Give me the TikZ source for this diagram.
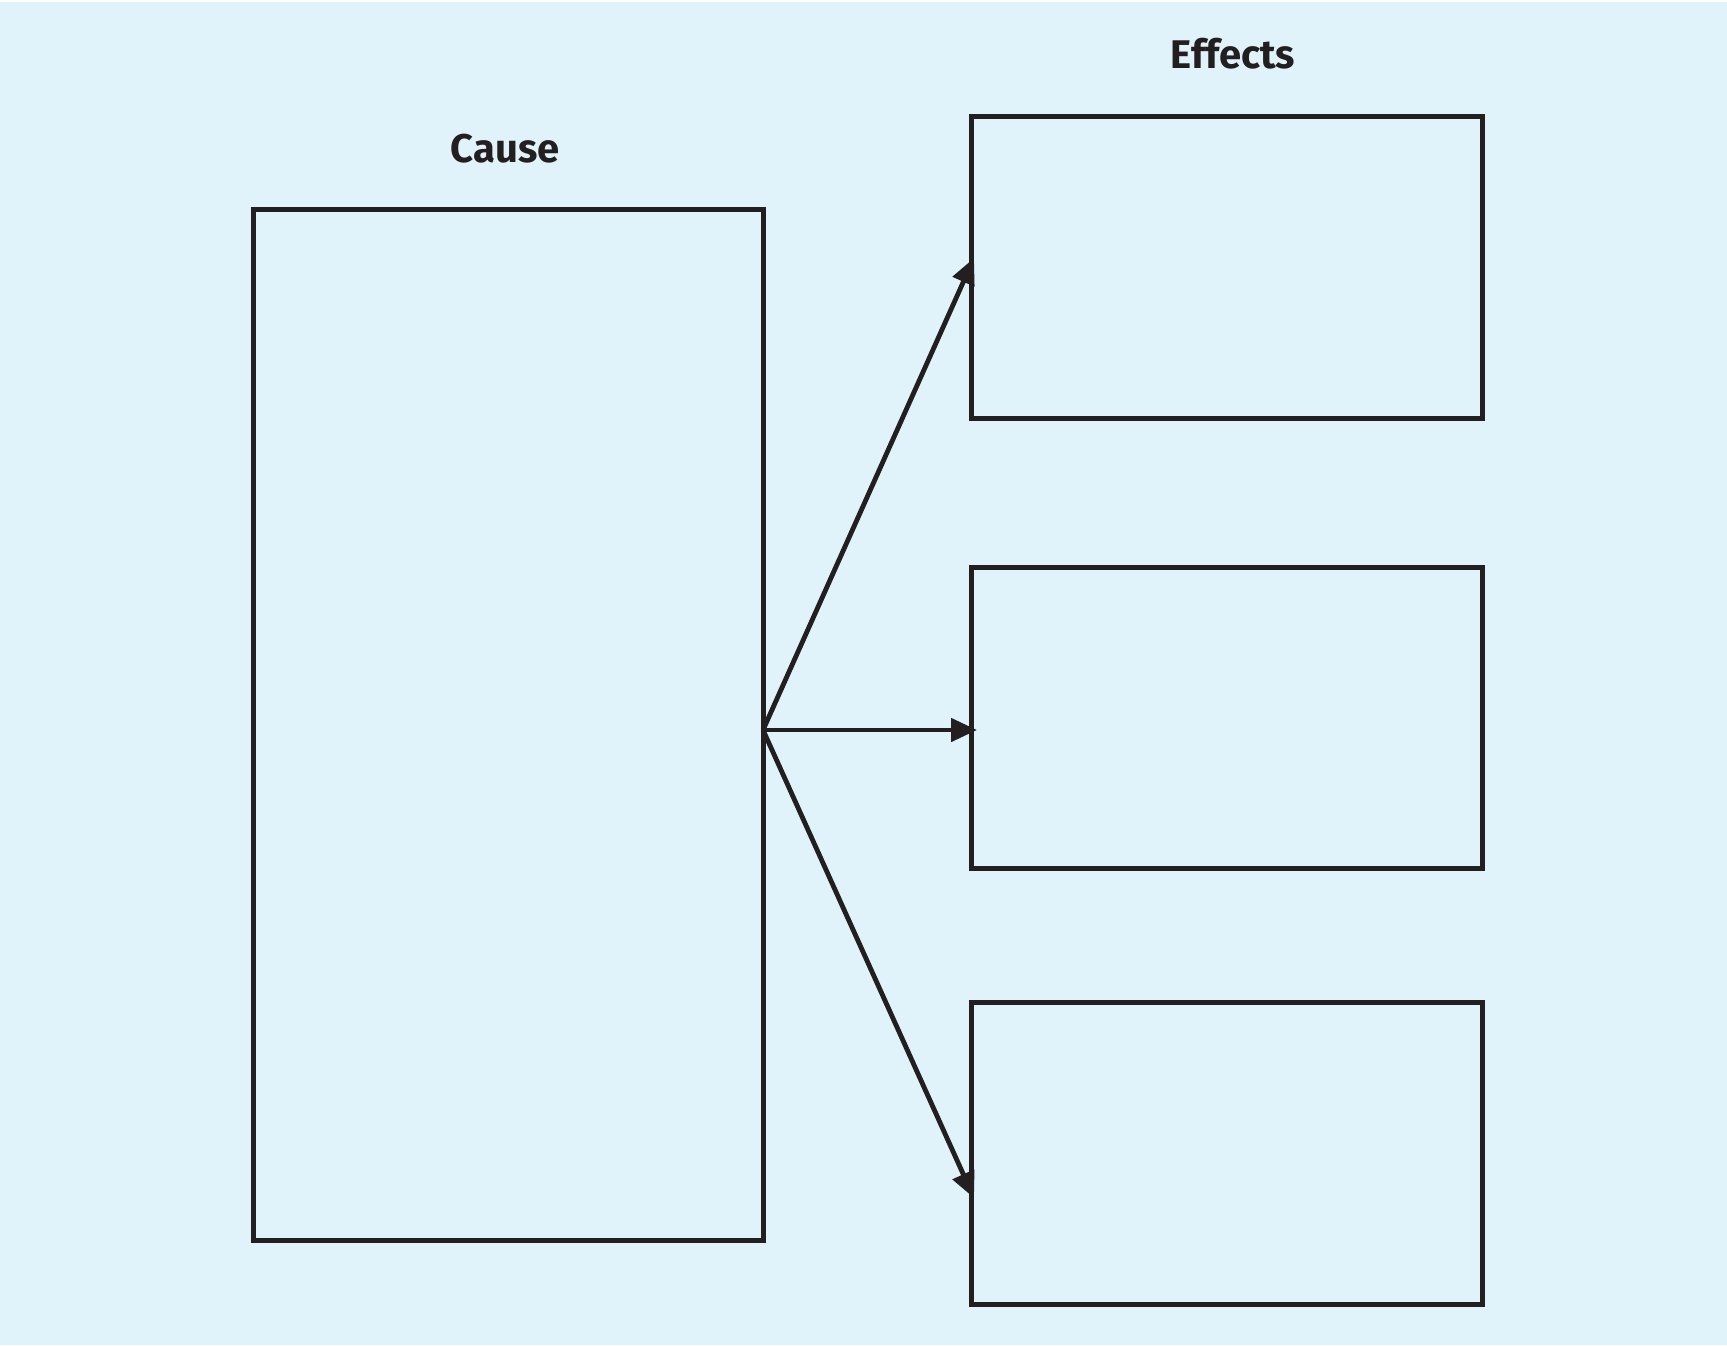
\documentclass[tikz,border=0pt]{standalone}
\usepackage{fontspec}
\setmainfont[Ligatures=NoCommon]{Fira Sans}
\usetikzlibrary{arrows.meta}
\definecolor{bg}{HTML}{E0F3FB}
\definecolor{ink}{HTML}{231F20}
\tikzset{
  box/.style={draw=ink, line width=2.5pt, rectangle, inner sep=0pt, outer sep=0pt},
  lbl/.style={text=ink, font=\fontsize{20}{24}\selectfont\bfseries, anchor=base, inner sep=0pt},
  conn/.style={draw=ink, line width=2.4pt, -{Triangle[length=13pt,width=11.5pt]}}
}
\begin{document}
\begin{tikzpicture}[x=0.5pt,y=-0.5pt]
\useasboundingbox (0,0) rectangle (1727,1345);
\fill[white] (0,0) rectangle (1727,1345);
\fill[bg] (0,2) rectangle (1727,1345);
\node[lbl] (causelbl) at (505,162) {Cause};
\node[lbl] (effectslbl) at (1233,68) {Effects};
\coordinate (src) at (763,730);
\coordinate (e1) at (974,258);
\coordinate (e2) at (977,730);
\coordinate (e3) at (974,1198);
\draw[conn] (src) -- (e1);
\draw[conn] (src) -- (e2);
\draw[conn] (src) -- (e3);
\node[box, minimum width=255pt, minimum height=515.5pt] (cause) at (508,724.5) {};
\node[box, minimum width=255.5pt, minimum height=151pt] (eff1) at (1227,267.6) {};
\node[box, minimum width=255.5pt, minimum height=150.5pt] (eff2) at (1227,717.5) {};
\node[box, minimum width=255.5pt, minimum height=151pt] (eff3) at (1227,1153) {};
\end{tikzpicture}
\end{document}
